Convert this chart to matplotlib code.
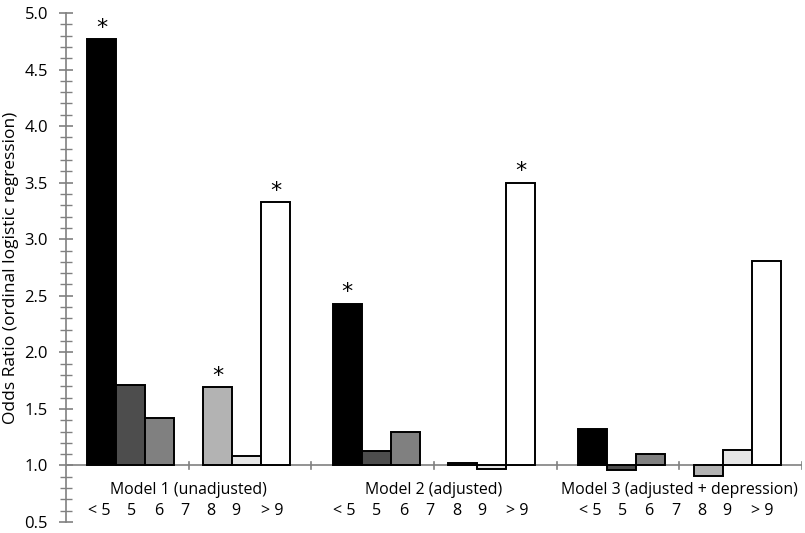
import numpy as np
import matplotlib
matplotlib.use("Agg")
import matplotlib.pyplot as plt

plt.rcParams['font.family'] = ['Open Sans', 'DejaVu Sans']

models = ["Model 1 (unadjusted)", "Model 2 (adjusted)", "Model 3 (adjusted + depression)"]
cats = ["< 5", "5", "6", "7", "8", "9", "> 9"]
colors = ["#000000", "#4d4d4d", "#808080", "#ffffff", "#b3b3b3", "#e6e6e6", "#ffffff"]
# odds ratios; category 7 is the reference (no bar)
or_lt5 = [4.77, 2.43, 1.32]
or_5 = [1.715, 1.125, 0.96]
or_6 = [1.42, 1.295, 1.105]
or_7 = [np.nan, np.nan, np.nan]
or_8 = [1.69, 1.025, 0.91]
or_9 = [1.08, 0.965, 1.14]
or_gt9 = [3.33, 3.50, 2.81]
series = [or_lt5, or_5, or_6, or_7, or_8, or_9, or_gt9]
# significance markers (model index, category index)
sig = [(0, 0), (0, 4), (0, 6), (1, 0), (1, 6)]

# label layout offsets (in bar widths, relative to group centre)
label_off = [-3.09, -1.97, -1.05, -0.13, 0.78, 1.64, 2.88]

fig = plt.figure(figsize=(8.05, 5.33), dpi=100)
ax = fig.add_axes([66/805, 1 - 522/533, 736/805, 509/533])
ax.set_xlim(-0.5, 2.5)
ax.set_ylim(0.5, 5.0)

base = 1.0
w = 0.118
x = np.arange(len(models))
for i, (vals, col) in enumerate(zip(series, colors)):
    off = (i - 3) * w
    for j, v in enumerate(vals):
        if np.isnan(v):
            continue
        ax.bar(x[j] + off, v - base, bottom=base, width=w, color=col,
               edgecolor="black", linewidth=1.4, zorder=3)

for (j, i) in sig:
    v = series[i][j]
    ax.annotate("*", (x[j] + (i - 3) * w, v), xytext=(0, 1), textcoords="offset points",
                ha="center", va="bottom", fontsize=16, family="DejaVu Sans")

# horizontal axis line at OR = 1
ax.axhline(base, color="#808080", linewidth=1.2, zorder=2)
for t in np.arange(-0.0, 2.51, 0.5):
    ax.plot([t, t], [base - 0.03, base + 0.03], color="#808080", linewidth=1.2, zorder=2)

# group and category labels
for j, m in enumerate(models):
    ax.text(x[j], 0.785, m, ha="center", va="center", fontsize=11.4)
    for i, c in enumerate(cats):
        ax.text(x[j] + label_off[i] * w, 0.60, c, ha="center", va="center", fontsize=11.6)

for s in ["top", "right", "bottom"]:
    ax.spines[s].set_visible(False)
ax.spines["left"].set_color("#808080")
ax.spines["left"].set_linewidth(1.2)
ax.set_xticks([])
ax.set_yticks(np.arange(0.5, 5.01, 0.5))
ax.set_yticklabels([f"{v:.1f}" for v in np.arange(0.5, 5.01, 0.5)], fontsize=12)
ax.set_yticks(np.arange(0.5, 5.01, 0.1), minor=True)
ax.tick_params(axis="y", which="major", direction="inout", length=10, width=1.2, color="#808080", pad=8)
ax.tick_params(axis="y", which="minor", direction="inout", length=8, width=1.0, color="#808080")

fig.text(11/805, 1 - 268/533, "Odds Ratio (ordinal logistic regression)", rotation=90,
         ha="center", va="center", fontsize=12.5)

fig.savefig("out.png", dpi=100)
